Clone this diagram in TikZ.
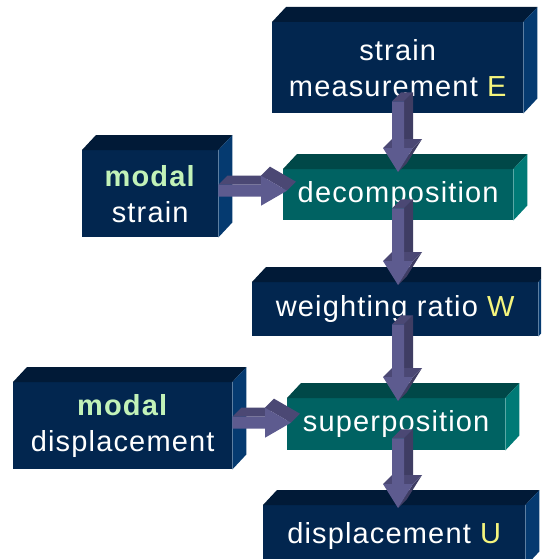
\documentclass[tikz,border=0pt]{standalone}
\usepackage{fontspec}
\setmainfont[LetterSpace=4]{Liberation Sans}
\usetikzlibrary{calc}
\definecolor{navfront}{HTML}{02264F}
\definecolor{navtop}{HTML}{011A37}
\definecolor{navside}{HTML}{053A70}
\definecolor{teafront}{HTML}{006262}
\definecolor{teatop}{HTML}{004848}
\definecolor{teaside}{HTML}{007A76}
\definecolor{arrface}{HTML}{5D5B8F}
\definecolor{arrtop}{HTML}{4B4874}
\definecolor{arrside}{HTML}{3F3D63}
\definecolor{modal}{HTML}{C2F2B8}
\definecolor{sym}{HTML}{F5F57D}
\tikzset{
  blk/.style={fill=#1front, text=white, align=center, inner sep=0pt, anchor=north west, font=\fontsize{29}{36}\selectfont},
}
% block arrow going down, from box #1 into box #2
\newcommand\flowdown[2]{%
  \path (ax |- #1.south) ++(0,12) coordinate (s);
  \path (ax |- #2.north) ++(0,-3) coordinate (t);
  \fill[arrtop] ($(s)+(-6,0)$) -- ($(s)+(6,0)$) -- ($(s)+(15,9)$) -- ($(s)+(3,9)$) -- cycle;
  \fill[arrside] ($(s)+(6,0)$) -- ($(s)+(15,9)$) -- ($(t)+(15,33)$) -- ($(t)+(6,24)$) -- cycle;
  \fill[arrside] ($(t)+(15,24)$) -- (t) -- ($(t)+(9,9)$) -- ($(t)+(24,33)$) -- cycle;
  \fill[arrtop] ($(t)+(-15,24)$) -- ($(t)+(15,24)$) -- ($(t)+(24,33)$) -- ($(t)+(-6,33)$) -- cycle;
  \fill[arrface] ($(s)+(-6,0)$) -- ($(s)+(6,0)$) -- ($(t)+(6,24)$) -- ($(t)+(15,24)$) -- (t)
    -- ($(t)+(-15,24)$) -- ($(t)+(-6,24)$) -- cycle;
}
% block arrow going right
\newcommand\flowright[2]{%
  \path (#1.east) ++(0,3) coordinate (s);
  \path (#2.west |- s) ++(4,0) coordinate (t);
  \fill[arrtop] ($(s)+(0,6)$) -- ($(s)+(9,15)$) -- ($(t)+(-17,15)$) -- ($(t)+(-26,6)$) -- cycle;
  \fill[arrtop] ($(t)+(-26,15)$) -- (t) -- ($(t)+(9,9)$) -- ($(t)+(-17,24)$) -- cycle;
  \fill[arrface] ($(s)+(0,6)$) -- ($(t)+(-26,6)$) -- ($(t)+(-26,15)$) -- (t) -- ($(t)+(-26,-15)$)
    -- ($(t)+(-26,-6)$) -- ($(s)+(0,-6)$) -- cycle;
}

\begin{document}
\begin{tikzpicture}[x=1pt, y=1pt]
  \clip (0,0) rectangle (541,-559);
  \fill[white] (0,0) rectangle (541,-559);
  % front faces
  \node[blk=nav, minimum width=251pt, minimum height=91pt] (meas) at (272,-22) {strain\\measurement \textcolor{sym}{E}};
  \node[blk=nav, minimum width=136pt, minimum height=87pt] (mstrain) at (82,-150) {\textcolor{modal}{\textbf{modal}}\\strain};
  \node[blk=tea, minimum width=230pt, minimum height=51pt] (decomp) at (283,-169) {decomposition};
  \node[blk=nav, minimum width=286pt, minimum height=54pt] (weight) at (252,-282) {weighting ratio \textcolor{sym}{W}};
  \node[blk=nav, minimum width=219pt, minimum height=87pt] (mdisp) at (13,-382) {\textcolor{modal}{\textbf{modal}}\\displacement};
  \node[blk=tea, minimum width=218pt, minimum height=52pt] (superp) at (287,-398) {superposition};
  \node[blk=nav, minimum width=262pt, minimum height=61pt] (dispU) at (263,-505) {displacement \textcolor{sym}{U}};
  % top and right faces
  \foreach \n/\col in {meas/nav,mstrain/nav,decomp/tea,weight/nav,mdisp/nav,superp/tea,dispU/nav} {
    \fill[fill=\col top] (\n.north west) -- ++(14,15) -- ($(\n.north east)+(14,15)$) -- (\n.north east) -- cycle;
    \fill[fill=\col side] (\n.north east) -- ++(14,15) -- ($(\n.south east)+(14,15)$) -- (\n.south east) -- cycle;
  }
  % arrows
  \coordinate (ax) at (398,0);
  \flowdown{meas}{decomp}
  \flowdown{decomp}{weight}
  \flowdown{weight}{superp}
  \flowdown{superp}{dispU}
  \flowright{mstrain}{decomp}
  \flowright{mdisp}{superp}
\end{tikzpicture}
\end{document}
